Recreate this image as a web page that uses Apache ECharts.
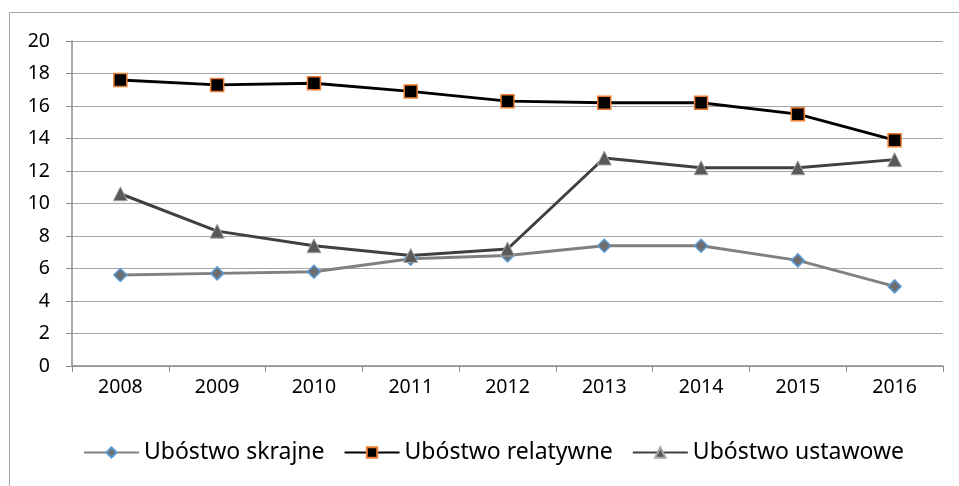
<!DOCTYPE html>
<html>
<head>
<meta charset="utf-8">
<script src="https://cdn.jsdelivr.net/npm/echarts@6/dist/echarts.min.js"></script>
<style>
  html, body { margin: 0; padding: 0; background: #fff; }
  #chart { width: 959px; height: 486px; }
</style>
</head>
<body>
<div id="chart"></div>
<script>
const years = ['2008', '2009', '2010', '2011', '2012', '2013', '2014', '2015', '2016']
const skrajne = [5.6, 5.7, 5.8, 6.6, 6.8, 7.4, 7.4, 6.5, 4.9]
const relatywne = [17.6, 17.3, 17.4, 16.9, 16.3, 16.2, 16.2, 15.5, 13.9]
const ustawowe = [10.6, 8.3, 7.4, 6.8, 7.2, 12.8, 12.2, 12.2, 12.7]

const font = 'Noto Sans'
const chart = echarts.init(document.getElementById('chart'))

const option = {
    animation: false,
    backgroundColor: '#ffffff',
    graphic: [{
        type: 'rect',
        shape: { x: 9.5, y: 12.5, width: 1000, height: 600 },
        style: { fill: 'none', stroke: '#a6a6a6', lineWidth: 1 },
        silent: true
    }],
    grid: { left: 72, right: 16, top: 41, bottom: 120 },
    legend: {
        top: 436,
        left: 78,
        itemWidth: 55,
        itemHeight: 13,
        itemGap: 19,
        textStyle: { fontFamily: font, fontSize: 23, color: '#000' },
        data: ['Ubóstwo skrajne', 'Ubóstwo relatywne', 'Ubóstwo ustawowe']
    },
    xAxis: {
        type: 'category',
        data: years,
        boundaryGap: true,
        axisLine: { lineStyle: { color: '#8c8c8c', width: 1.5 } },
        axisTick: { show: true, length: 6, alignWithLabel: false, lineStyle: { color: '#8c8c8c' } },
        axisLabel: { fontFamily: font, fontSize: 19.5, color: '#000', margin: 11 }
    },
    yAxis: {
        type: 'value',
        min: 0,
        max: 20,
        interval: 2,
        axisLine: { show: true, lineStyle: { color: '#8c8c8c', width: 1.5 } },
        axisTick: { show: true, length: 6, lineStyle: { color: '#8c8c8c' } },
        axisLabel: { fontFamily: font, fontSize: 19.5, color: '#000', margin: 22 },
        splitLine: { lineStyle: { color: '#a6a6a6', width: 1.2 } }
    },
    series: [
        {
            name: 'Ubóstwo skrajne',
            type: 'line',
            data: skrajne,
            symbol: 'diamond',
            symbolSize: 13,
            lineStyle: { color: '#808080', width: 3 },
            itemStyle: { color: '#6e6e6e', borderColor: '#5b9bd5', borderWidth: 1.5 }
        },
        {
            name: 'Ubóstwo relatywne',
            type: 'line',
            data: relatywne,
            symbol: 'rect',
            symbolSize: 13,
            lineStyle: { color: '#000000', width: 3 },
            itemStyle: { color: '#000000', borderColor: '#ed7d31', borderWidth: 1.5 }
        },
        {
            name: 'Ubóstwo ustawowe',
            type: 'line',
            data: ustawowe,
            symbol: 'triangle',
            symbolSize: 14,
            lineStyle: { color: '#404040', width: 3 },
            itemStyle: { color: '#595959', borderColor: '#a6a6a6', borderWidth: 1 }
        }
    ]
}
chart.setOption(option)
</script>
</body>
</html>
